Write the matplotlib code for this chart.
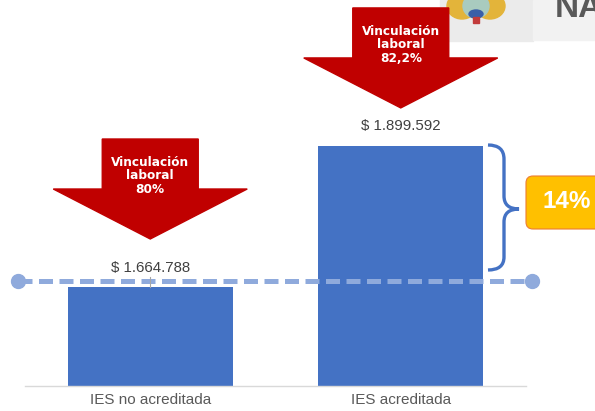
import matplotlib
matplotlib.use("Agg")
import matplotlib.pyplot as plt
from matplotlib.patches import Polygon, Rectangle, Ellipse, FancyBboxPatch, PathPatch
from matplotlib.path import Path
from matplotlib.transforms import IdentityTransform

# data
categories = ["IES no acreditada", "IES acreditada"]
salaries = [1664788, 1899592]
vinculacion = ["80%", "82,2%"]
ref_level = 1675000
diff_label = "14%"

W, H = 595, 411
fig = plt.figure(figsize=(W / 100, H / 100), dpi=100)
ax = fig.add_axes([25 / W, 25 / H, 501 / W, 386 / H])
ax.patch.set_visible(False)

blue = "#4472C4"
red = "#C00000"
light = "#8FAADC"

ax.bar(range(len(categories)), salaries, width=0.66, color=blue, zorder=2)
ax.set_xlim(-0.5, len(categories) - 0.5)
ax.set_ylim(1500000, 2142500)
ax.set_xticks(range(len(categories)))
ax.set_xticklabels(categories, fontsize=11, color="#595959", family="Liberation Sans")
ax.tick_params(axis="x", length=0, pad=5)
ax.set_yticks([])
for s in ["top", "left", "right"]:
    ax.spines[s].set_visible(False)
ax.spines["bottom"].set_color("#D9D9D9")
ax.spines["bottom"].set_linewidth(1)

# reference dashed line with dots at both ends
ax.plot([-0.528, 1.524], [ref_level, ref_level], color=light, lw=3.6,
        dashes=(2.8, 1.3), dash_capstyle="butt", clip_on=False, zorder=3)
ax.plot([-0.528, 1.524], [ref_level, ref_level], "o", color=light, ms=10,
        clip_on=False, zorder=3)

# value labels
for i, v in enumerate(salaries):
    txt = "$ " + f"{v:,}".replace(",", ".")
    ax.annotate(txt, (i, v), xytext=(0, 14), textcoords="offset points",
                ha="center", va="center", fontsize=10.8, color="#404040",
                family="Liberation Sans")
# small leader for the first label
y0 = ax.transData.transform((0, salaries[0]))
ax.plot([0, 0], [salaries[0], ax.transData.inverted().transform((y0[0], y0[1] + 10))[1]],
        color="#A6A6A6", lw=0.8, zorder=4)


def px(x, y):
    return (x, H - y)


ident = IdentityTransform()

# header (logo area)
fig.add_artist(Rectangle(px(440, 41), 93, 41, transform=ident, color="#EBEBEB", zorder=0))
fig.add_artist(Rectangle(px(533, 40), 62, 40, transform=ident, color="#F2F2F2", zorder=0))
fig.add_artist(Ellipse(px(462, 6), 30, 26, transform=ident, color="#E3B43A", zorder=1))
fig.add_artist(Ellipse(px(490, 6), 30, 26, transform=ident, color="#E3B43A", zorder=1))
fig.add_artist(Ellipse(px(476, 6), 26, 24, transform=ident, color="#A9CBBF", zorder=1))
fig.add_artist(Ellipse(px(476, 14), 14, 8, transform=ident, color="#3A5FA8", zorder=1))
fig.add_artist(Rectangle(px(473, 23), 6, 6, transform=ident, color="#C23B3B", zorder=1))
fig.text(555 / W, (H - 17) / H, "NA", fontsize=24, fontweight="bold", color="#595959",
         family="Liberation Sans", va="baseline", ha="left")

# red arrows
tip_off = [48, 38]
for i, lab in enumerate(vinculacion):
    cx, top = ax.transData.transform((i, salaries[i]))
    top = H - top
    yt = top - tip_off[i]
    yh = yt - 50
    ys = yh - 50
    pts = [px(cx - 48, ys), px(cx + 48, ys), px(cx + 48, yh), px(cx + 97, yh),
           px(cx, yt), px(cx - 97, yh), px(cx - 48, yh)]
    fig.add_artist(Polygon(pts, closed=True, transform=ident, color=red, zorder=5))
    fig.text(cx / W, (H - (ys + 37)) / H, "Vinculación\nlaboral\n" + lab,
             ha="center", va="center", color="white", fontsize=8.7,
             fontweight="bold", linespacing=1.05, zorder=6)

# brace
verts = [px(488, 145), px(504, 145), px(504, 159), px(504, 196),
         px(504, 209), px(519, 209), px(504, 209), px(504, 222),
         px(504, 257), px(504, 270), px(488, 270)]
codes = [Path.MOVETO, Path.CURVE3, Path.CURVE3, Path.LINETO,
         Path.CURVE3, Path.CURVE3, Path.CURVE3, Path.CURVE3,
         Path.LINETO, Path.CURVE3, Path.CURVE3]
fig.add_artist(PathPatch(Path(verts, codes), transform=ident, fill=False,
                         edgecolor=blue, lw=2.4, zorder=5))

# 14% box
fig.add_artist(FancyBboxPatch(px(526, 229), 80, 53, transform=ident,
                              boxstyle="round,pad=0,rounding_size=7",
                              facecolor="#FFC000", edgecolor="#ED7D31", lw=0.8, zorder=5))
fig.text(567 / W, (H - 202) / H, diff_label, ha="center", va="center", color="white",
         fontsize=17.5, fontweight="bold", family="Liberation Sans", zorder=6)

fig.savefig("out.png", dpi=100)
